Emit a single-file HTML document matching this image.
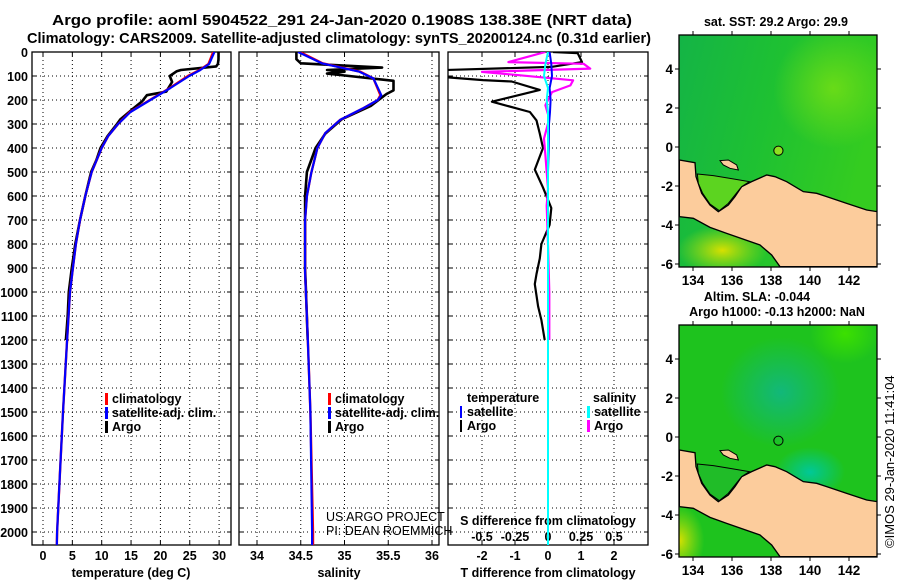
<!DOCTYPE html>
<html><head><meta charset="utf-8"><style>
html,body{margin:0;padding:0;background:#fff}
svg{display:block}
text{font-family:"Liberation Sans",Arial,sans-serif;font-weight:bold;fill:#000}
</style></head><body>
<svg id="chart" width="900" height="580" viewBox="0 0 900 580">
<defs>
<clipPath id="c1"><rect x="32" y="52" width="199" height="493"/></clipPath>
<clipPath id="c2"><rect x="239" y="52" width="200" height="493"/></clipPath>
<clipPath id="c3"><rect x="448" y="52" width="200" height="493"/></clipPath>
<clipPath id="cm1"><rect x="679" y="35" width="198" height="232"/></clipPath>
<clipPath id="cm2"><rect x="679" y="325" width="198" height="232"/></clipPath>
<linearGradient id="sstBase" x1="0" y1="0" x2="1" y2="0.3">
<stop offset="0" stop-color="#14b446"/><stop offset="0.5" stop-color="#1ec132"/><stop offset="1" stop-color="#34cc20"/></linearGradient>
<radialGradient id="sstWarm" cx="0.5" cy="0.5" r="0.5">
<stop offset="0" stop-color="#78e014" stop-opacity="0.8"/><stop offset="1" stop-color="#78e014" stop-opacity="0"/></radialGradient>
<radialGradient id="sstYel" cx="0.5" cy="0.5" r="0.5">
<stop offset="0" stop-color="#d8e000"/><stop offset="1" stop-color="#a8e010" stop-opacity="0"/></radialGradient>
<radialGradient id="slaTeal" cx="0.5" cy="0.5" r="0.5">
<stop offset="0" stop-color="#12b87a"/><stop offset="1" stop-color="#12b87a" stop-opacity="0"/></radialGradient>
<radialGradient id="slaTeal2" cx="0.5" cy="0.5" r="0.5">
<stop offset="0" stop-color="#00c898"/><stop offset="1" stop-color="#00c898" stop-opacity="0"/></radialGradient>
<radialGradient id="slaLight" cx="0.5" cy="0.5" r="0.5">
<stop offset="0" stop-color="#3ce000"/><stop offset="1" stop-color="#3ce000" stop-opacity="0"/></radialGradient>
</defs>

<text x="52" y="25" font-size="15" textLength="580" lengthAdjust="spacingAndGlyphs">Argo profile: aoml 5904522_291 24-Jan-2020 0.1908S 138.38E (NRT data)</text>
<text x="27" y="43" font-size="15" textLength="624" lengthAdjust="spacingAndGlyphs">Climatology: CARS2009. Satellite-adjusted climatology: synTS_20200124.nc (0.31d earlier)</text>

<g id="p1"></g>
<g id="p2"></g>
<g id="p3"></g>
<g id="m1"></g>
<g id="m2"></g>

<text x="0" y="0" font-size="13" style="font-weight:normal" transform="translate(894,548) rotate(-90)">©IMOS 29-Jan-2020 11:41:04</text>
</svg>
<script>
// ---------- data ----------
const climDepth = [0,50,75,100,150,200,250,300,350,400,500,600,700,800,900,1000,1200,1500,1750,2000,2060];
const climT = [29.0,28.2,26.7,24.7,21.6,18.2,14.8,12.8,11.1,10.0,8.3,7.2,6.3,5.6,5.1,4.6,4.1,3.4,2.9,2.4,2.35];
const satT  = [29.2,28.3,26.8,24.9,21.7,18.3,14.9,12.8,11.1,10.0,8.3,7.2,6.3,5.6,5.1,4.6,4.1,3.4,2.9,2.4,2.35];
const climSDepth = [0,47,82,110,180,200,235,283,338,400,505,600,700,920,1185,1500,2000,2060];
const climS = [34.49,34.75,35.18,35.33,35.41,35.38,35.21,34.95,34.78,34.69,34.62,34.57,34.55,34.55,34.58,34.61,34.64,34.64];
const satS  = [34.47,34.74,35.17,35.33,35.42,35.38,35.21,34.95,34.78,34.69,34.62,34.57,34.55,34.55,34.58,34.61,34.63,34.63];
const argoTDepth = [0,10,30,50,60,75,80,100,125,165,180,205,235,280,300,350,400,450,500,600,700,800,900,1000,1100,1200];
const argoT = [29.9,29.9,29.9,29.8,29.5,23.5,22.8,21.6,22.0,21.0,17.7,16.9,15.4,13.2,12.6,11.0,9.8,9.1,8.2,7.2,6.3,5.5,4.9,4.4,4.2,3.9];
const argoSDepth = [0,30,47,65,75,82,90,96,120,160,175,225,280,340,400,500,600,700,900,1000,1200];
const argoS = [34.45,34.45,34.5,35.43,34.8,35.0,34.8,34.95,35.56,35.56,35.48,35.3,34.97,34.78,34.67,34.57,34.55,34.55,34.55,34.56,34.58];
const dTDepth = [0,5,42,62,75,90,105,117,123,158,207,250,285,340,400,490,565,650,720,800,860,925,967,1060,1117,1200];
const dT = [0.15,0.9,1.03,0.1,-3.1,-3.1,-3.1,-1.97,-1.1,-0.25,-1.7,-0.55,-0.35,-0.25,-0.15,-0.4,-0.15,0.1,0.05,-0.2,-0.25,-0.35,-0.4,-0.3,-0.2,-0.1];
const dSDepth = [0,42,49,69,83,97,118,139,167,222,278,361,430,500,570,640,800,1000,1200];
const dS = [-0.02,-0.3,0.27,0.32,-0.5,-0.21,0.19,0.17,0.03,-0.02,0.01,-0.03,-0.02,-0.01,0.0,-0.01,0.0,0.01,0.01];
const satDiffDepth = [0,50,100,150,200,250,300,400,500,1000,2060];
const satDT = [0.05,0.1,0.12,0.05,0.08,0.06,0.03,0.02,0.0,0.0,0.0];
const satDS = [0.0,-0.02,-0.03,0.0,-0.01,0.0,0.0,0.0,0.0,0.0,0.0];
const depthTicks = [0,100,200,300,400,500,600,700,800,900,1000,1100,1200,1300,1400,1500,1600,1700,1800,1900,2000];
const tTicks = [0,5,10,15,20,25,30];
const sTicks = [34,34.5,35,35.5,36];
const dTTicks = [-2,-1,0,1,2];
const dSTicks = [-0.5,-0.25,0,0.25,0.5];
const dSTickLabels = ['-0.5','-0.25','0','0.25','0.5'];
const floatLon = 138.38, floatLat = -0.19;
const latTicks = [4,2,0,-2,-4,-6];
const lonTicks = [134,136,138,140,142];

// ---------- helpers ----------
const NS='http://www.w3.org/2000/svg';
function mk(tag, attrs, parent){const e=document.createElementNS(NS,tag);for(const k in attrs)e.setAttribute(k,attrs[k]);parent.appendChild(e);return e;}
const yD = d => 52 + d*0.24;
const xT = v => 43 + v*5.87;
const xS = v => 257 + (v-34)*87.5;
const xDT = v => 548 + v*33;
const xDS = v => 548 + v*132;
function linePath(xs, ds, fx){return xs.map((v,i)=>(i?'L':'M')+fx(v).toFixed(1)+' '+yD(ds[i]).toFixed(1)).join(' ');}

function frame(g, x0, x1, gridXs){
  for(const d of depthTicks){
    const y=yD(d);
    const l=mk('line',{x1:x0,x2:x1,y1:y,y2:y,stroke:'#000','stroke-width':1,'stroke-dasharray':'1,3'},g);
    
    
    mk('line',{x1:x0,x2:x0+4,y1:y,y2:y,stroke:'#000'},g);
    mk('line',{x1:x1-4,x2:x1,y1:y,y2:y,stroke:'#000'},g);
  }
  for(const x of gridXs){
    const l=mk('line',{x1:x,x2:x,y1:52,y2:545,stroke:'#000','stroke-width':1,'stroke-dasharray':'1,3'},g);
    
    
    mk('line',{x1:x,x2:x,y1:545,y2:541,stroke:'#000'},g);
    mk('line',{x1:x,x2:x,y1:52,y2:56,stroke:'#000'},g);
  }
  const r=mk('rect',{x:x0,y:52,width:x1-x0,height:493,fill:'none',stroke:'#000','stroke-width':1.3},g);
  
  
}
function series(g, vals, ds, fx, color, w, clip, name){
  const p=mk('path',{d:linePath(vals,ds,fx),fill:'none',stroke:color,'stroke-width':w,'clip-path':'url(#'+clip+')','stroke-linejoin':'round'},g);
  
  
}
function txt(g, x, y, s, size, anchor, name){
  const t=mk('text',{x:x,y:y,'font-size':size,'text-anchor':anchor||'start'},g);
  t.textContent=s;
  
  
  return t;
}
function legend(g, x, y, color, label, w){
  mk('rect',{x:x,y:y-10,width:w||3,height:12,fill:color},g);
  txt(g, x+7, y, label, 12.5, 'start', 'legend-entry');
}

// ---------- panel 1 ----------
const p1=document.getElementById('p1');
frame(p1,32,231,tTicks.map(xT));
for(const d of depthTicks) txt(p1,28,yD(d)+5,String(d),12.5,'end','y-tick-label');
for(const v of tTicks) txt(p1,xT(v),560,String(v),12.5,'middle','x-tick-label');
txt(p1,131,577,'temperature (deg C)',12.5,'middle','x-axis-title');
series(p1,argoT,argoTDepth,xT,'#000',2.6,'c1','argo-temperature-line');
series(p1,climT,climDepth,xT,'#f00',2.4,'c1','climatology-temperature-line');
series(p1,satT,climDepth,xT,'#00f',2.2,'c1','satellite-temperature-line');
legend(p1,105,403,'#f00','climatology');
legend(p1,105,417,'#00f','satellite-adj. clim.');
legend(p1,105,431,'#000','Argo');

// ---------- panel 2 ----------
const p2=document.getElementById('p2');
frame(p2,239,439,sTicks.map(xS));
for(const v of sTicks) txt(p2,xS(v),560,String(v),12.5,'middle','x-tick-label');
txt(p2,339,577,'salinity',12.5,'middle','x-axis-title');
series(p2,argoS,argoSDepth,xS,'#000',2.6,'c2','argo-salinity-line');
series(p2,climS,climSDepth,xS,'#f00',2.4,'c2','climatology-salinity-line');
series(p2,satS,climSDepth,xS,'#00f',2.2,'c2','satellite-salinity-line');
legend(p2,328,403,'#f00','climatology');
legend(p2,328,417,'#00f','satellite-adj. clim.');
legend(p2,328,431,'#000','Argo');
(function(){const a=txt(p2,326,521,'US ARGO PROJECT',12.5,'start','credit-project');a.style.fontWeight='normal';
const b=txt(p2,326,535,'PI: DEAN ROEMMICH',12.5,'start','credit-pi');b.style.fontWeight='normal';})();

// ---------- panel 3 ----------
const p3=document.getElementById('p3');
frame(p3,448,648,dTTicks.map(xDT));
for(const v of dTTicks) txt(p3,xDT(v),560,String(v),12.5,'middle','x-tick-label');
txt(p3,548,577,'T difference from climatology',12.5,'middle','x-axis-title');
dSTicks.forEach((v,i)=>txt(p3,xDS(v),541,dSTickLabels[i],12.5,'middle','s-tick-label'));
txt(p3,548,525,'S difference from climatology',12.5,'middle','s-axis-title');
series(p3,dT,dTDepth,xDT,'#000',2.2,'c3','argo-t-difference-line');
series(p3,dS,dSDepth,xDS,'#f0f',2.2,'c3','argo-s-difference-line');
series(p3,satDT,satDiffDepth,xDT,'#00f',2,'c3','satellite-t-difference-line');
series(p3,satDS,satDiffDepth,xDS,'#0ff',2,'c3','satellite-s-difference-line');
txt(p3,467,402,'temperature',12.5,'start','legend-title-temperature');
legend(p3,460,416,'#00f','satellite',2);
legend(p3,460,430,'#000','Argo',2);
txt(p3,593,402,'salinity',12.5,'start','legend-title-salinity');
legend(p3,587,416,'#0ff','satellite');
legend(p3,587,430,'#f0f','Argo');

// ---------- maps ----------
const land = '58,480 105,488 108,530 125,580 150,615 175,635 205,615 225,590 245,560 275,545 320,525 345,530 380,545 430,575 470,580 500,590 560,610 620,630 652,635 652,800 360,800 335,765 300,735 200,700 150,682 100,655 58,650';
const bay  = '112,522 160,527 210,535 268,545 245,560 225,585 205,610 178,632 150,612 128,580 115,550';
const island = '180,482 205,480 230,495 235,510 210,505 190,495';
const mapX = lon => 693 + (lon-134)*19.5;
function drawMap(g, yoff, clip, kind){
  const lat0 = yoff + 147;
  const mapY = lat => lat0 - lat*19.5;
  const inner = mk('g',{'clip-path':'url(#'+clip+')'},g);
  if(kind==='sst'){
    mk('rect',{x:679,y:yoff+35,width:198,height:232,fill:'url(#sstBase)'},inner);
    mk('ellipse',{cx:mapX(141.2),cy:mapY(3),rx:60,ry:60,fill:'url(#sstWarm)'},inner);
    mk('ellipse',{cx:mapX(135.5),cy:mapY(-5.3),rx:45,ry:25,fill:'url(#sstYel)'},inner);
  } else {
    mk('rect',{x:679,y:yoff+35,width:198,height:232,fill:'#1ec31e'},inner);
    mk('ellipse',{cx:mapX(138.5),cy:mapY(2.3),rx:60,ry:55,fill:'url(#slaTeal)'},inner);
    mk('ellipse',{cx:mapX(140),cy:mapY(-1.8),rx:35,ry:25,fill:'url(#slaTeal2)'},inner);
    mk('ellipse',{cx:mapX(141.8),cy:mapY(5.3),rx:35,ry:30,fill:'url(#slaLight)'},inner);
    mk('ellipse',{cx:mapX(133.3),cy:mapY(-5.3),rx:25,ry:35,fill:'url(#sstYel)'},inner);
  }
  const lg=mk('g',{transform:'translate(660,'+yoff+') scale(0.33333)'},inner);
  const lp=mk('polygon',{points:land,fill:'#fccc9c',stroke:'#000','stroke-width':4},lg);
  
  
  mk('polygon',{points:bay,fill:kind==='sst'?'#5cd420':'#20bc28',stroke:'#000','stroke-width':3},lg);
  mk('polygon',{points:island,fill:'#fccc9c',stroke:'#000','stroke-width':3},lg);
  const c=mk('circle',{cx:mapX(floatLon),cy:mapY(floatLat),r:4.6,fill:kind==='sst'?'#8ee020':'none',stroke:'#000','stroke-width':1},g);
  
  
  const f=mk('rect',{x:679,y:yoff+35,width:198,height:232,fill:'none',stroke:'#000','stroke-width':1.3},g);
  
  
  for(const la of latTicks){
    const y=mapY(la);
    mk('line',{x1:679,x2:675,y1:y,y2:y,stroke:'#000'},g);
    mk('line',{x1:877,x2:881,y1:y,y2:y,stroke:'#000'},g);
    txt(g,673,y+5,String(la),13.5,'end','lat-tick-label');
  }
  for(const lo of lonTicks){
    const x=mapX(lo);
    mk('line',{x1:x,x2:x,y1:yoff+267,y2:yoff+271,stroke:'#000'},g);
    mk('line',{x1:x,x2:x,y1:yoff+35,y2:yoff+31,stroke:'#000'},g);
    txt(g,x,yoff+285,String(lo),13.5,'middle','lon-tick-label');
  }
}
const m1=document.getElementById('m1');
drawMap(m1,0,'cm1','sst');
txt(m1,776,26,'sat. SST: 29.2 Argo: 29.9',12.5,'middle','sst-map-title');
const m2=document.getElementById('m2');
drawMap(m2,290,'cm2','sla');
txt(m2,757,301,'Altim. SLA: -0.044',12.5,'middle','sla-map-title');
txt(m2,777,316,'Argo h1000: -0.13 h2000: NaN',12.5,'middle','sla-map-subtitle');
</script>
</body></html>
